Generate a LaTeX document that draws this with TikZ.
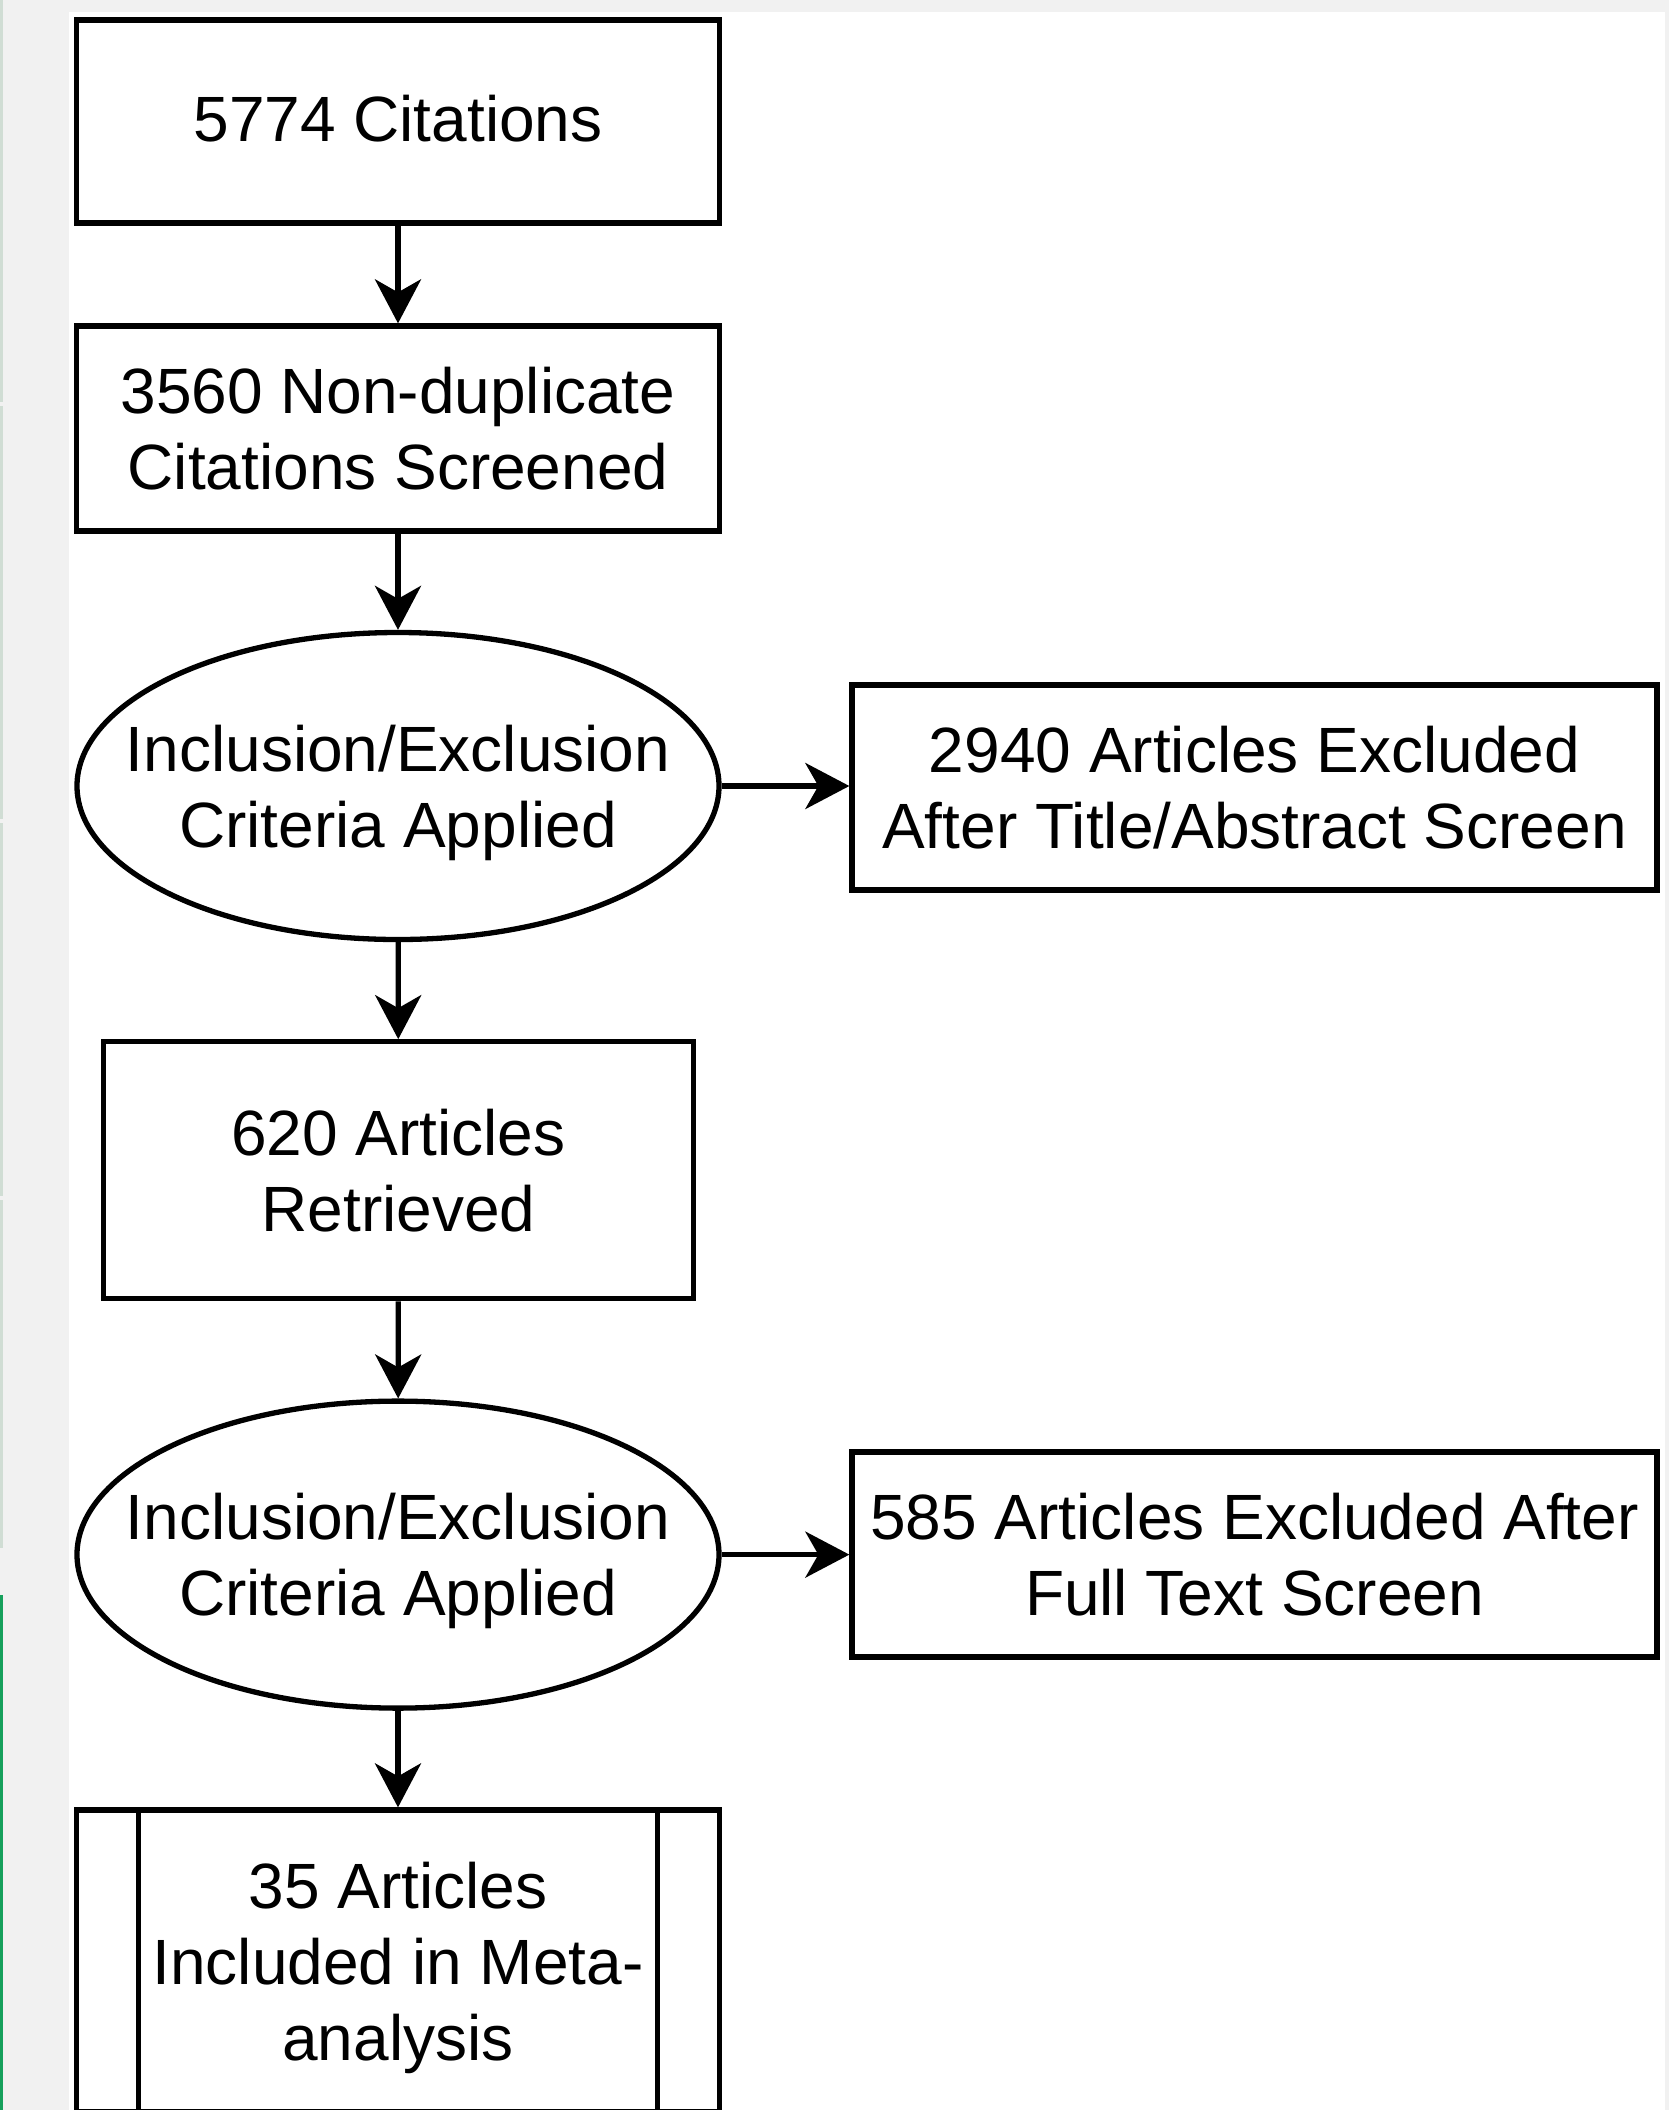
\documentclass[tikz,border=0pt]{standalone}
\usepackage{fontspec}
\setmainfont{Liberation Sans}
\usetikzlibrary{shapes.geometric,arrows.meta}
\definecolor{bggray}{RGB}{241,241,241}
\definecolor{edgeline}{RGB}{208,221,212}
\definecolor{edgegreen}{RGB}{22,160,92}
\begin{document}
\begin{tikzpicture}[x=1pt,y=-1pt,
  txt/.style={font=\fontsize{64}{76}\selectfont, align=center, inner sep=0pt},
  boxst/.style={txt, draw, line width=5.3pt, rectangle, fill=white},
  ellst/.style={draw, line width=5.3pt, ellipse, fill=white, inner sep=0pt,
                minimum width=642pt, minimum height=307pt},
  arr/.style={line width=5.3pt, -{Stealth[length=44pt,width=46pt,inset=13pt]}}
]
\useasboundingbox (0,0) rectangle (1669,2110);
\clip (0,0) rectangle (1669,2110);
\fill[bggray] (0,0) rectangle (1669,2110);
\fill[white] (69,12) rectangle (1665,2110);
% left edge artefact lines
\draw[edgeline, line width=2.5pt] (1.5,0) -- (1.5,402) (1.5,406) -- (1.5,819)
   (1.5,823) -- (1.5,1196) (1.5,1200) -- (1.5,1548);
\draw[edgegreen, line width=3pt] (1.5,1595) -- (1.5,2110);

% nodes
\node[boxst, minimum width=643.5pt, minimum height=203pt, text depth=6pt] (b1) at (398,121.5) {5774 Citations};
\node[boxst, minimum width=643.5pt, minimum height=205pt] (b2) at (398,428.5) {3560 Non-duplicate\\Citations Screened};
\node[ellst] (e1) at (398,786) {};
\node[txt, text depth=0pt] (t1) at (e1.center) {Inclusion/Exclusion\\Criteria Applied};
\node[boxst, minimum width=805pt, minimum height=205pt] (x1) at (1254.5,787.5) {2940 Articles Excluded\\After Title/Abstract Screen};
\node[boxst, minimum width=589.6pt, minimum height=257pt] (b3) at (398.4,1170.3) {620 Articles\\Retrieved};
\node[ellst] (e2) at (398,1554.6) {};
\node[txt, text depth=0pt] (t2) at (e2.center) {Inclusion/Exclusion\\Criteria Applied};
\node[boxst, minimum width=805pt, minimum height=205pt] (x2) at (1254.5,1554.5) {585 Articles Excluded After\\Full Text Screen};
\node[boxst, minimum width=643.5pt, minimum height=302pt, text depth=0pt] (f) at (398,1961) {35 Articles\\Included in Meta-\\analysis};
\draw[line width=5.3pt] ([xshift=64.8pt]f.north west) -- ([xshift=64.8pt]f.south west)
   ([xshift=-64.8pt]f.north east) -- ([xshift=-64.8pt]f.south east);

% connectors
\draw[arr] (b1) -- (b2);
\draw[arr] (b2) -- (e1);
\draw[arr] (e1) -- (b3);
\draw[arr] (b3) -- (e2);
\draw[arr] (e2) -- (f);
\draw[arr] (e1) -- (x1.west |- e1.east);
\draw[arr] (e2) -- (x2.west |- e2.east);
\end{tikzpicture}
\end{document}
